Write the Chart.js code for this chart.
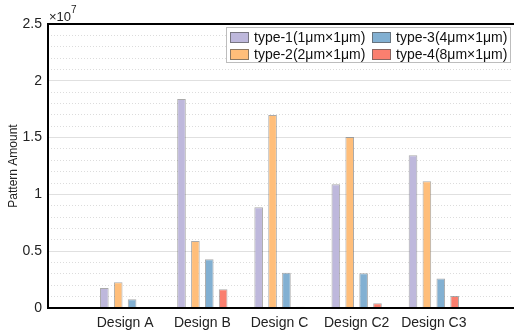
<!DOCTYPE html>
<html>
<head>
<meta charset="utf-8">
<script src="https://cdn.jsdelivr.net/npm/chart.js@4"></script>
<style>
    html, body { margin: 0; padding: 0; background: #fff; overflow: hidden; }
    #wrap { width: 518px; height: 333px; }
</style>
</head>
<body>
<div id="wrap"><canvas id="chart"></canvas></div>
<script>
// 類別（前後留空位，讓 Design A 落在第 1 格）
const designs = ['', 'Design A', 'Design B', 'Design C', 'Design C2', 'Design C3', ''];

// 各型態數量
const type1 = [null, 1.76e6, 1.84e7, 8.86e6, 1.09e7, 1.345e7, null];
const type2 = [null, 2.26e6, 5.9e6, 1.70e7, 1.505e7, 1.115e7, null];
const type3 = [null, 7.7e5, 4.29e6, 3.1e6, 3.05e6, 2.6e6, null];
const type4 = [null, 3e4, 1.65e6, 1.0e5, 4.1e5, 1.06e6, null];

const seriesNames = ['type-1(1μm×1μm)', 'type-2(2μm×1μm)', 'type-3(4μm×1μm)', 'type-4(8μm×1μm)'];
const yTicks = [0, 5e6, 1e7, 1.5e7, 2e7, 2.5e7];

const colors = ['#BEB8DC', '#FFBE7A', '#82B0D2', '#FA7F6F'];
const FONT = 'Arial, "Liberation Sans", Helvetica, sans-serif';

// 畫座標框、×10^7 與圖例
const extras = {
    id: 'extras',
    afterDraw(chart) {
        const ctx = chart.ctx;
        const a = chart.chartArea;
        ctx.save();
        ctx.setLineDash([]);

        // 座標框（上、左、下）
        const L = Math.round(a.left), T = Math.round(a.top), B = Math.round(a.bottom);
        ctx.fillStyle = '#000';
        ctx.fillRect(L - 1, T - 1, chart.width - L + 1, 2);
        ctx.fillRect(L - 1, T - 1, 2, B - T + 2);
        ctx.fillRect(L - 1, B - 1, chart.width - L + 1, 2);

        // 指數標記
        ctx.fillStyle = '#222';
        ctx.textBaseline = 'alphabetic';
        ctx.textAlign = 'left';
        ctx.font = '13px ' + FONT;
        ctx.fillText('×10', a.left + 1, a.top - 3);
        const w = ctx.measureText('×10').width;
        ctx.font = '10px ' + FONT;
        ctx.fillText('7', a.left + 1 + w, a.top - 11);

        // 圖例框
        const bx = 226, by = 27, bw = 284, bh = 35;
        ctx.fillStyle = '#fff';
        ctx.fillRect(bx, by, bw, bh);
        ctx.strokeStyle = '#bdbdbd';
        ctx.lineWidth = 1;
        ctx.strokeRect(bx + 0.5, by + 0.5, bw, bh);

        ctx.font = '14px ' + FONT;
        ctx.textBaseline = 'middle';
        const cols = [230, 372];
        const rows = [37.5, 54.5];
        // 排列：左欄 1、2，右欄 3、4
        chart.data.datasets.forEach((ds, i) => {
            const x = cols[Math.floor(i / 2)];
            const y = rows[i % 2];
            ctx.fillStyle = ds.backgroundColor;
            ctx.fillRect(x, y - 5.5, 19, 11);
            ctx.strokeStyle = 'rgba(90,90,90,0.7)';
            ctx.strokeRect(x + 0.5, y - 5.5 + 0.5, 18, 10);
            ctx.fillStyle = '#111';
            ctx.fillText(ds.label, x + 24, y + 0.5);
        });
        ctx.restore();
    }
};

const ctx = document.getElementById('chart').getContext('2d');
new Chart(ctx, {
    type: 'bar',
    data: {
        labels: designs,
        datasets: [type1, type2, type3, type4].map((d, i) => ({
            label: seriesNames[i],
            data: d,
            backgroundColor: colors[i],
            borderColor: 'rgba(100,100,100,0.55)',
            borderWidth: 1,
            categoryPercentage: 0.72,
            barPercentage: 0.62
        }))
    },
    options: {
        responsive: true,
        maintainAspectRatio: false,
        animation: false,
        layout: { padding: { top: 24, left: 0, right: 0, bottom: 0 } },
        plugins: {
            legend: { display: false },
            tooltip: { enabled: false }
        },
        scales: {
            x: {
                offset: false,
                grid: { display: false, offset: false, drawTicks: false, tickLength: 0 },
                border: { display: false },
                ticks: {
                    color: '#222',
                    font: { family: FONT, size: 14 },
                    padding: 7,
                    maxRotation: 0,
                    autoSkip: false
                },
                afterFit: s => { s.height = 25; }
            },
            y: {
                min: 0,
                max: 2.5e7,
                afterBuildTicks: s => { s.ticks = yTicks.map(v => ({ value: v })); },
                grid: {
                    drawTicks: false,
                    color: '#e0e0e0'
                },
                border: { display: false },
                ticks: {
                    color: '#222',
                    font: { family: FONT, size: 14 },
                    padding: 6,
                    callback: v => String(v / 1e7)
                },
                title: {
                    display: true,
                    text: 'Pattern Amount',
                    color: '#222',
                    font: { family: FONT, size: 12 },
                    padding: { top: 6, bottom: 0 }
                },
                afterFit: s => { s.width = 48; }
            },
            yMinor: {
                position: 'left',
                min: 0,
                max: 2.5e7,
                ticks: { display: false, stepSize: 1e6 },
                grid: {
                    drawTicks: false,
                    color: c => (c.tick && c.tick.value % 5e6 === 0) ? 'rgba(0,0,0,0)' : '#dcdcdc'
                },
                border: { display: false, dash: [1, 2] },
                afterFit: s => { s.width = 0; }
            }
        }
    },
    plugins: [extras]
});
</script>
</body>
</html>
